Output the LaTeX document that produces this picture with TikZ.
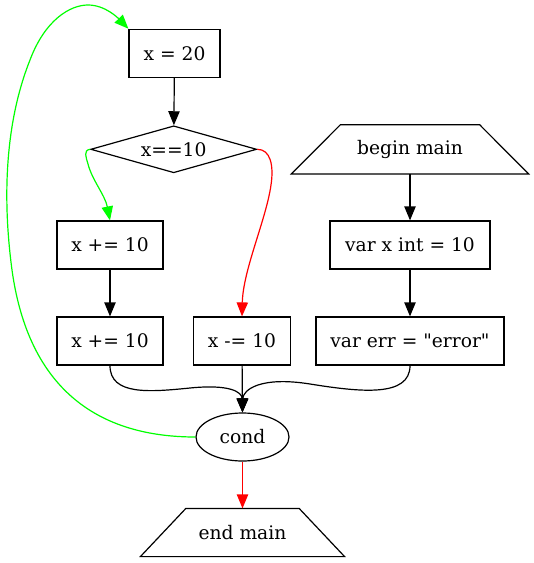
\documentclass[tikz,border=0pt]{standalone}
\usepackage{fontspec}
\setmainfont{DejaVu Serif}[Ligatures=TeXOff]
\usetikzlibrary{shapes.geometric,arrows.meta}
\definecolor{gvgreen}{RGB}{0,255,0}
\definecolor{gvred}{RGB}{255,0,0}
\begin{document}
\begin{tikzpicture}[x=0.75pt,y=-0.75pt,
  font=\fontsize{14pt}{16pt}\selectfont,
  every node/.style={line width=0.9pt},
  box/.style={draw,rectangle,inner sep=0pt,minimum height=36pt},
  dia/.style={draw,diamond,aspect=3.5,inner sep=0pt,minimum width=124.5pt,minimum height=35.25pt},
  oval/.style={draw,ellipse,inner sep=0pt,minimum width=69.75pt,minimum height=36pt},
  trap/.style={inner sep=0pt},
  edge/.style={line width=0.9pt,-{Triangle[length=10.5pt,width=8.5pt]}},
  ]
\useasboundingbox (0,0) rectangle (533,563);
% nodes
\node[box,minimum width=68.25pt] (x20) at (174.5,53.3) {x = 20};
\node[dia] (d) at (173.7,149.3) {x==10};
\node[trap,minimum width=177pt,minimum height=36pt] (bm) at (410,149.3) {begin main};
\draw[line width=0.9pt] (bm.south west) -- (bm.south east) -- ([xshift=-36.75pt]bm.north east) -- ([xshift=36.75pt]bm.north west) -- cycle;
\node[box,minimum width=79.5pt] (p1) at (110,245) {x += 10};
\node[box,minimum width=120pt] (vx) at (410,245) {var x int = 10};
\node[box,minimum width=79.5pt] (p2) at (110,341) {x += 10};
\node[box,minimum width=72.75pt] (m1) at (242,341) {x -= 10};
\node[box,minimum width=141pt] (ve) at (410,341) {var err = "error"};
\node[oval] (c) at (242.5,437) {cond};
\node[trap,minimum width=152.25pt,minimum height=35.25pt] (em) at (242.5,532.5) {end main};
\draw[line width=0.9pt] (em.south west) -- (em.south east) -- ([xshift=-34.1pt]em.north east) -- ([xshift=34.1pt]em.north west) -- cycle;
% edges
\draw[edge] (x20) -- (d);
\draw[edge] (bm) -- (vx);
\draw[edge] (vx) -- (ve);
\draw[edge] (p1) -- (p2);
\draw[edge] (m1) -- (c);
\draw[edge,gvgreen] (d.west) .. controls +(-7,1) and (86,157) .. (88,164) .. controls (92,180) and (105,195) .. (p1.north);
\draw[edge,gvred] (d.east) .. controls +(13,0) and (274,165) .. (271,185) .. controls (266,220) and (243,270) .. (m1.north);
\draw[edge] (p2.south) .. controls +(0,30) and (150,392) .. (190,388) .. controls (230,384) and (242,392) .. (c.north);
\draw[edge] (ve.south) .. controls +(0,32) and (360,392) .. (310,384) .. controls (260,376) and (243,390) .. (c.north);
\draw[edge,gvgreen] (c.west) .. controls (110,437) and (30,400) .. (12,270) .. controls (0,180) and (10,110) .. (30,60) .. controls (45,20) and (70,5) .. (88,5) .. controls (105,5) and (118,18) .. (x20.north west);
\draw[edge,gvred] (c) -- (em);
\end{tikzpicture}
\end{document}
